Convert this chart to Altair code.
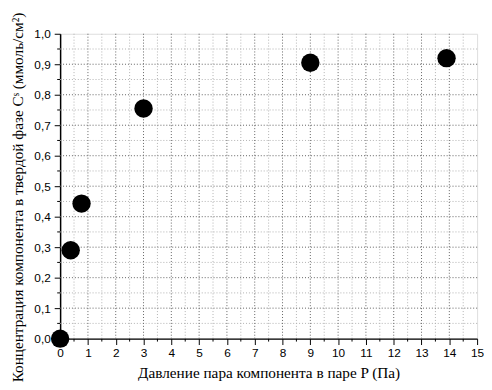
import altair as alt
import pandas as pd

# data
pressure = [0.0, 0.38, 0.77, 3.0, 9.0, 13.9]
concentration = [0.0, 0.29, 0.443, 0.755, 0.905, 0.92]

x_ticks = list(range(0, 16))
y_ticks = [0.0, 0.1, 0.2, 0.3, 0.4, 0.5, 0.6, 0.7, 0.8, 0.9, 1.0]
x_minor = [i + 0.5 for i in range(0, 15)]
y_minor = [round(i * 0.1 + 0.05, 2) for i in range(0, 10)]
x_grid_major = list(range(1, 15))
y_grid_major = [0.1, 0.2, 0.3, 0.4, 0.5, 0.6, 0.7, 0.8, 0.9]

W, H = 424, 310

df = pd.DataFrame({"P": pressure, "C": concentration})

xscale = alt.Scale(domain=[0, 15], nice=False, zero=False)
yscale = alt.Scale(domain=[0, 1.0], nice=False, zero=False)

sans = "Liberation Sans"
serif = "Liberation Serif"

y_title = "Концентрация компонента в твердой фазе Cˢ (ммоль/см²)"
x_title = "Давление пара компонента в паре P (Па)"

x_axis = alt.Axis(
    title=x_title,
    values=x_ticks,
    format="d",
    grid=False,
    tickSize=6,
    tickColor="black",
    domainColor="black",
    domainWidth=1.5,
    labelFont=sans,
    labelFontSize=12,
    labelColor="black",
    labelPadding=3,
    titleFont=serif,
    titleFontSize=15.5,
    titleFontWeight="normal",
    titleColor="black",
    titlePadding=8,
    labelFlush=False,
    zindex=0,
)
y_axis = alt.Axis(
    title=y_title,
    values=y_ticks,
    labelExpr="replace(format(datum.value, '.1f'), '.', ',')",
    grid=False,
    tickSize=6,
    tickColor="black",
    domainColor="black",
    domainWidth=1.5,
    labelFont=sans,
    labelFontSize=12,
    labelColor="black",
    labelPadding=4,
    titleFont=serif,
    titleFontSize=15.5,
    titleFontWeight="normal",
    titleColor="black",
    titleX=-43,
    titleY=166,
    titleBaseline="middle",
    titleAlign="center",
    labelFlush=False,
    zindex=0,
)

xmin_grid = alt.Chart(pd.DataFrame({"x": x_minor})).mark_rule(
    color="#b0b0b0", strokeDash=[1, 2], strokeWidth=1
).encode(x=alt.X("x:Q", scale=xscale, axis=x_axis))
xmaj_grid = alt.Chart(pd.DataFrame({"x": x_grid_major})).mark_rule(
    color="#606060", strokeDash=[1, 2], strokeWidth=1
).encode(x=alt.X("x:Q", scale=xscale, axis=x_axis))
ymin_grid = alt.Chart(pd.DataFrame({"y": y_minor})).mark_rule(
    color="#b0b0b0", strokeDash=[1, 2], strokeWidth=1
).encode(y=alt.Y("y:Q", scale=yscale, axis=y_axis))
ymaj_grid = alt.Chart(pd.DataFrame({"y": y_grid_major})).mark_rule(
    color="#606060", strokeDash=[1, 2], strokeWidth=1
).encode(y=alt.Y("y:Q", scale=yscale, axis=y_axis))

x_minor_ticks = alt.Chart(pd.DataFrame({"x": x_minor})).mark_rule(
    color="black", strokeWidth=1
).encode(
    x=alt.X("x:Q", scale=xscale, axis=x_axis),
    y=alt.value(H),
    y2=alt.value(H + 3),
)
y_minor_ticks = alt.Chart(pd.DataFrame({"y": y_minor})).mark_rule(
    color="black", strokeWidth=1
).encode(
    y=alt.Y("y:Q", scale=yscale, axis=y_axis),
    x=alt.value(-3),
    x2=alt.value(0),
)

points = alt.Chart(df).mark_circle(size=350, color="black", opacity=1).encode(
    x=alt.X("P:Q", scale=xscale, axis=x_axis),
    y=alt.Y("C:Q", scale=yscale, axis=y_axis),
)

chart = alt.layer(
    xmin_grid, ymin_grid, xmaj_grid, ymaj_grid, x_minor_ticks, y_minor_ticks, points
).properties(
    width=W,
    height=H,
    autosize=alt.AutoSizeParams(type="none"),
    padding={"left": 53, "top": 23, "right": 7, "bottom": 47},
).configure_view(stroke=None).configure(background="white")

chart.save("out.html", embed_options={"renderer": "svg", "actions": False})
